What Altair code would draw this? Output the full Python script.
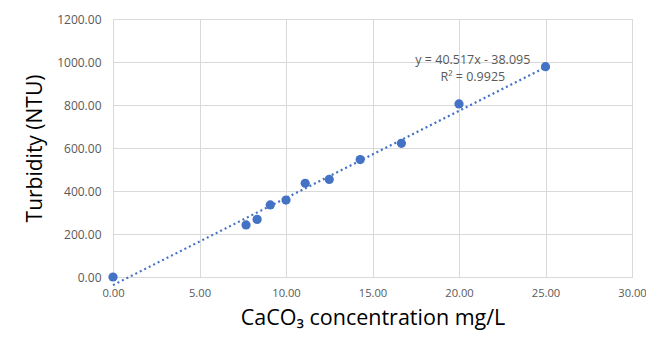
import altair as alt
import pandas as pd

conc = [0.0, 7.69, 8.33, 9.09, 10.0, 11.11, 12.5, 14.29, 16.67, 20.0, 25.0]
turb = [0.0, 242, 268, 335, 358, 436, 454, 546, 622, 805, 978]
eq_lines = ["y = 40.517x - 38.095", "R² = 0.9925"]
x_ticks = [0, 5, 10, 15, 20, 25, 30]
y_ticks = [0, 200, 400, 600, 800, 1000, 1200]

df = pd.DataFrame({"x": conc, "y": turb})

xs = alt.Scale(domain=[0, 30], nice=False, zero=False)
ys = alt.Scale(domain=[0, 1200], nice=False)

x_axis = alt.Axis(values=x_ticks, format=".2f", title="CaCO₃ concentration mg/L",
                  grid=True, gridColor="#d9d9d9", domain=True, domainColor="#d9d9d9",
                  ticks=False, labelColor="#595959", labelFontSize=11.2, labelPadding=10,
                  labelFlush=False,
                  labelFont="Open Sans", titleFont="Open Sans", titleFontSize=21.5,
                  titleFontWeight="normal", titleColor="#000000", titlePadding=9)
y_axis = alt.Axis(values=y_ticks, format=".2f", title="Turbidity (NTU)",
                  grid=True, gridColor="#d9d9d9", domain=False,
                  ticks=False, labelColor="#595959", labelFontSize=12, labelPadding=12,
                  labelFont="Open Sans", titleFont="Open Sans", titleFontSize=21,
                  titleFontWeight="normal", titleColor="#000000", titlePadding=11)

base = alt.Chart(df)

trend = base.transform_regression("x", "y", extent=[0, 25]).mark_line(
    color="#4472C4", strokeWidth=2.2, strokeDash=[2, 3]
).encode(x=alt.X("x:Q", scale=xs, axis=x_axis), y=alt.Y("y:Q", scale=ys, axis=y_axis))

pts = base.mark_circle(color="#4472C4", opacity=1, size=85).encode(
    x=alt.X("x:Q", scale=xs), y=alt.Y("y:Q", scale=ys)
)

eq_df = pd.DataFrame({"t": eq_lines, "ex": [20.8, 20.8], "ey": [1009.0, 930.0]})
eq = alt.Chart(eq_df).mark_text(color="#595959", fontSize=12.5, font="Open Sans",
                                 align="center", baseline="middle").encode(
    x=alt.X("ex:Q", scale=xs), y=alt.Y("ey:Q", scale=ys), text="t:N"
)

chart = alt.layer(trend, pts, eq).properties(
    width=519, height=258,
    autosize=alt.AutoSizeParams(type="none"),
    padding={"left": 105, "top": 11, "right": 14, "bottom": 55},
).configure_view(stroke=None).configure(background="white")

chart.save("out.html", embed_options={"renderer": "svg", "actions": False})
